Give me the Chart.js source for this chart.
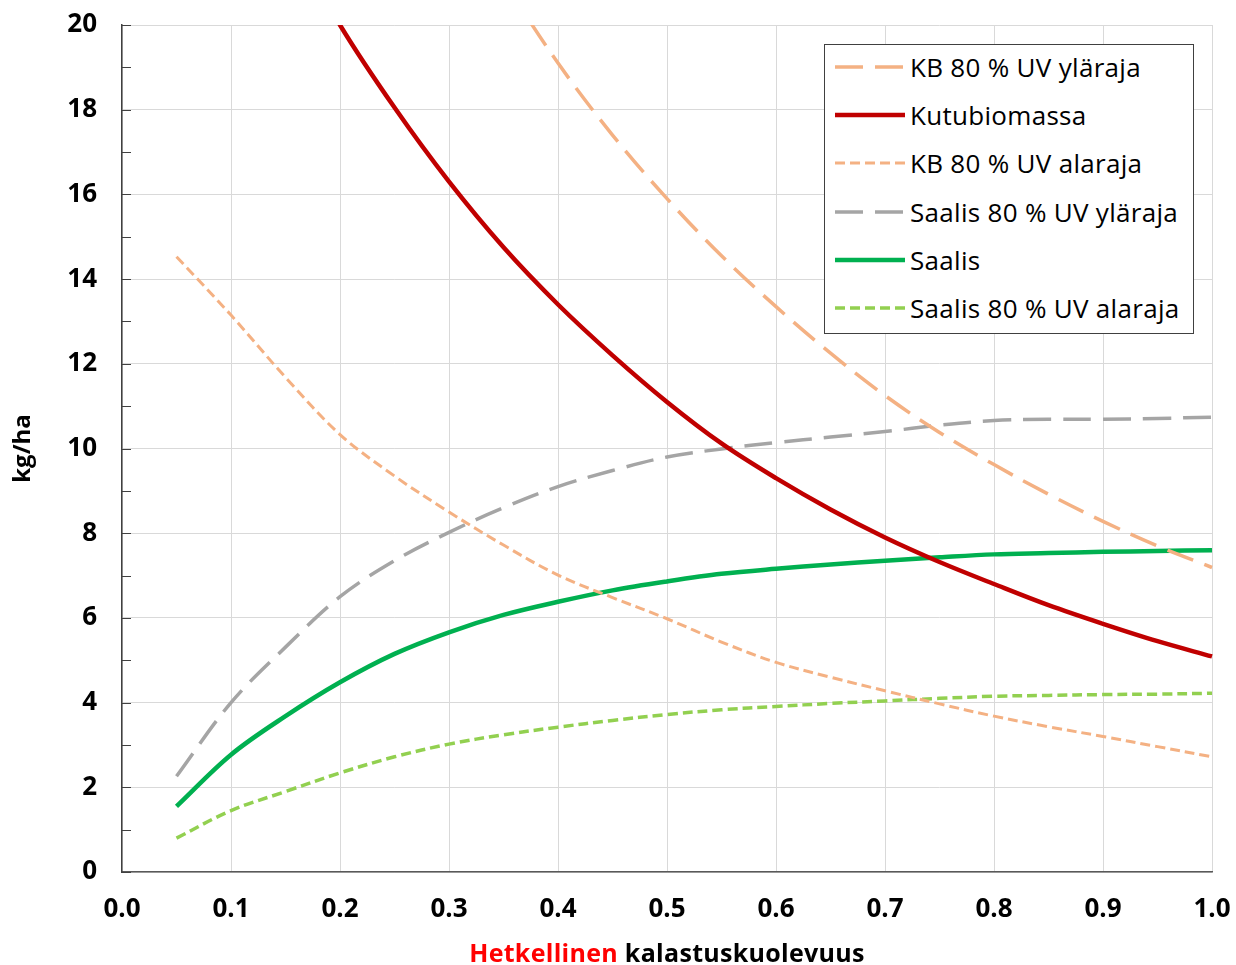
<!DOCTYPE html>
<html>
<head>
<meta charset="utf-8">
<script src="https://cdn.jsdelivr.net/npm/chart.js@4/dist/chart.umd.min.js"></script>
<style>
  body { margin: 0; background: #fff; }
  #wrap { position: relative; width: 1236px; height: 965px; }
  #xtitle {
    position: absolute; left: 122px; width: 1090px; top: 935px;
    text-align: center; font: bold 25px "Open Sans", sans-serif; color: #000; letter-spacing: 0.3px;
  }
  #xtitle .red { color: #ff0000; }
  #legend {
    position: absolute; left: 824px; top: 44px; width: 368px; height: 288px;
    border: 1px solid #404040; background: #fff; overflow: hidden;
  }
  #legend .inner { position: relative; top: -2px; }
  .row { display: flex; align-items: center; height: 48.2px; font: 26px "Open Sans", sans-serif; color: #000; letter-spacing: 0.3px; white-space: nowrap; }
  .row svg { margin-left: 10px; margin-right: 5px; flex: none; }
</style>
</head>
<body>
<div id="wrap">
  <canvas id="chart" width="1236" height="965"></canvas>
  <div id="legend"><div class="inner"></div></div>
  <div id="xtitle"><span class="red">Hetkellinen</span> kalastuskuolevuus</div>
</div>
<script>
var xs = [0.05, 0.1, 0.15, 0.2, 0.25, 0.3, 0.35, 0.4, 0.45, 0.5, 0.55, 0.6, 0.65, 0.7, 0.75, 0.8, 0.85, 0.9, 0.95, 1.0];

var kbYlaraja = [38, 34.6, 31.4, 28.4, 25.7, 23.1, 21.05, 19.1, 17.4, 15.9, 14.55, 13.35, 12.25, 11.25, 10.38, 9.62, 8.92, 8.28, 7.7, 7.19];
var kutubiomassa = [27.8, 24.9, 22.3, 20.0, 18.05, 16.3, 14.75, 13.4, 12.2, 11.1, 10.12, 9.3, 8.56, 7.9, 7.32, 6.8, 6.3, 5.86, 5.45, 5.09];
var kbAlaraja = [14.53, 13.15, 11.68, 10.33, 9.35, 8.5, 7.72, 7.01, 6.48, 5.98, 5.43, 4.95, 4.6, 4.28, 3.97, 3.68, 3.43, 3.2, 2.96, 2.72];
var saalisYlaraja = [2.26, 4.0, 5.31, 6.5, 7.35, 8.02, 8.6, 9.1, 9.48, 9.8, 9.99, 10.14, 10.27, 10.4, 10.55, 10.66, 10.69, 10.69, 10.71, 10.74];
var saalis = [1.55, 2.77, 3.68, 4.48, 5.15, 5.66, 6.07, 6.38, 6.65, 6.86, 7.04, 7.16, 7.26, 7.35, 7.43, 7.5, 7.53, 7.56, 7.58, 7.6];
var saalisAlaraja = [0.8, 1.45, 1.9, 2.34, 2.72, 3.02, 3.24, 3.42, 3.58, 3.72, 3.83, 3.91, 3.98, 4.04, 4.1, 4.15, 4.17, 4.19, 4.2, 4.22];

var yTicks = [0, 2, 4, 6, 8, 10, 12, 14, 16, 18, 20];

function pts(arr) {
  return arr.map(function (v, i) { return { x: xs[i], y: v }; });
}

function ds(label, arr, color, width, dash) {
  return {
    label: label,
    data: pts(arr),
    borderColor: color,
    backgroundColor: color,
    borderWidth: width,
    borderDash: dash,
    pointRadius: 0,
    tension: 0.35,
    clip: { left: 5, right: 5, top: 0, bottom: 5 }
  };
}

var datasets = [
  ds('KB 80 % UV yläraja', kbYlaraja, '#f4b183', 3.5, [28, 12]),
  ds('Kutubiomassa', kutubiomassa, '#c00000', 4.5, []),
  ds('KB 80 % UV alaraja', kbAlaraja, '#f4b183', 3, [10, 5]),
  ds('Saalis 80 % UV yläraja', saalisYlaraja, '#a5a5a5', 3.5, [28, 12]),
  ds('Saalis', saalis, '#00b050', 4.5, []),
  ds('Saalis 80 % UV alaraja', saalisAlaraja, '#92d050', 3.5, [10, 5])
];

// pienet sisäpuoliset väliviivat y-akselille
var minorTicks = {
  id: 'minorTicks',
  afterDraw: function (chart) {
    var y = chart.scales.y, ctx = chart.ctx, left = chart.chartArea.left;
    ctx.save();
    ctx.strokeStyle = '#404040';
    ctx.lineWidth = 1;
    for (var v = 0; v <= 20; v++) {
      var p = Math.round(y.getPixelForValue(v)) + 0.5;
      ctx.beginPath();
      ctx.moveTo(left, p);
      ctx.lineTo(left + 9, p);
      ctx.stroke();
    }
    ctx.restore();
  }
};

var chart = new Chart(document.getElementById('chart'), {
  type: 'line',
  data: { datasets: datasets },
  options: {
    responsive: false,
    animation: false,
    layout: { padding: { top: 25, right: 24, left: 0, bottom: 0 } },
    plugins: { legend: { display: false }, tooltip: { enabled: false } },
    scales: {
      x: {
        type: 'linear', min: 0, max: 1,
        afterFit: function (s) { s.height = 93; s.paddingLeft = 0; s.paddingRight = 0; },
        ticks: {
          stepSize: 0.1, padding: 22, color: '#000',
          font: { family: 'Open Sans', size: 26, weight: 'bold' },
          callback: function (v) { return v.toFixed(1); }
        },
        grid: { color: '#d9d9d9', drawTicks: false },
        border: { color: '#595959', width: 1.5 }
      },
      y: {
        min: 0, max: 20,
        afterFit: function (s) { s.width = 122; s.paddingTop = 0; s.paddingBottom = 0; },
        afterBuildTicks: function (s) { s.ticks = yTicks.map(function (v) { return { value: v }; }); },
        ticks: {
          padding: 25, color: '#000',
          font: { family: 'Open Sans', size: 26, weight: 'bold' }
        },
        grid: { color: '#d9d9d9', drawTicks: false },
        border: { color: '#404040', width: 1.5 },
        title: {
          display: true, text: 'kg/ha', color: '#000', padding: { top: 9, bottom: 0 },
          font: { family: 'Open Sans', size: 24, weight: 'bold' }
        }
      }
    }
  },
  plugins: [minorTicks]
});

// legenda
var legend = document.querySelector('#legend .inner');
chart.data.datasets.forEach(function (d) {
  var row = document.createElement('div');
  row.className = 'row';
  var dash = d.borderDash.length ? d.borderDash.join(' ') : 'none';
  row.innerHTML = '<svg width="70" height="10"><line x1="0" y1="5" x2="70" y2="5" stroke="' + d.borderColor +
    '" stroke-width="' + d.borderWidth + '" stroke-dasharray="' + dash + '"/></svg><span>' + d.label + '</span>';
  legend.appendChild(row);
});
</script>
</body>
</html>
